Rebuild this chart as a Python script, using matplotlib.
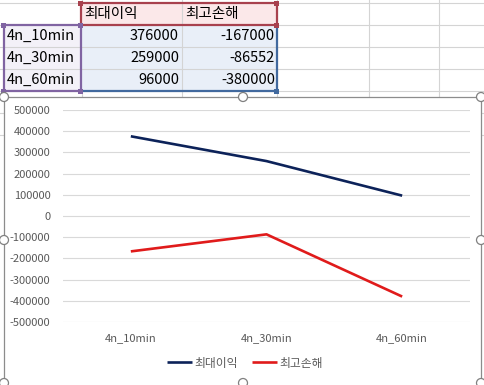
import matplotlib
matplotlib.use("Agg")
import matplotlib.pyplot as plt
from matplotlib.patches import Rectangle, Circle

plt.rcParams['font.family'] = ['Noto Sans CJK KR', 'DejaVu Sans']

# data
categories = ['4n_10min', '4n_30min', '4n_60min']
series_names = ['최대이익', '최고손해']
max_profit = [376000, 259000, 96000]
max_loss = [-167000, -86552, -380000]
y_ticks = list(range(-500000, 500001, 100000))

W, H = 485, 385
fig = plt.figure(figsize=(W / 100, H / 100), dpi=100)

# sheet background, drawn in pixel coords
bg = fig.add_axes([0, 0, 1, 1], zorder=0)
bg.set_xlim(0, W)
bg.set_ylim(H, 0)
bg.axis('off')

grid_c = '#d4d4d4'
row_edges = [3, 25, 47, 69, 91, 113, 135]
col_edges = [82, 182, 277, 369, 439]
for y in row_edges:
    bg.plot([0, W], [y, y], color=grid_c, lw=0.8, zorder=1)
for x in col_edges:
    bg.plot([x, x], [0, H], color=grid_c, lw=0.8, zorder=1)

# highlighted ranges
bg.add_patch(Rectangle((81, 3), 196, 22, facecolor='#fbe8e9', edgecolor='none', zorder=1.5))
bg.add_patch(Rectangle((81, 25), 196, 66, facecolor='#e9eff8', edgecolor='none', zorder=1.5))
bg.add_patch(Rectangle((4, 25), 77, 66, facecolor='#f3f1f8', edgecolor='none', zorder=1.5))
for y in [47, 69]:
    bg.plot([4, 277], [y, y], color=grid_c, lw=0.8, zorder=1.6)
bg.plot([182, 182], [3, 91], color=grid_c, lw=0.8, zorder=1.6)

red_c, pur_c, blu_c = '#a8414e', '#8064a2', '#41699e'
bg.plot([81, 277, 277, 81, 81], [3, 3, 25, 25, 3], color=red_c, lw=1.6, zorder=2)
bg.plot([81, 4, 4, 81], [25, 25, 91, 91], color=pur_c, lw=1.6, zorder=2)
bg.plot([81, 81], [25, 91], color=pur_c, lw=1.6, zorder=2)
bg.plot([81, 277, 277], [91, 91, 25], color=blu_c, lw=1.6, zorder=2)
for (x, y), c in [((81, 3), red_c), ((277, 3), red_c), ((277, 25), red_c),
                  ((4, 25), pur_c), ((81, 25), pur_c), ((4, 91), pur_c),
                  ((81, 91), pur_c), ((277, 91), blu_c)]:
    bg.add_patch(Rectangle((x - 2.5, y - 2.5), 5, 5, facecolor=c, edgecolor='none', zorder=2.5))

# cell text
bg.text(84, 14, series_names[0], ha='left', va='center', fontsize=10.5)
bg.text(185, 14, series_names[1], ha='left', va='center', fontsize=10.5)
for i, cat in enumerate(categories):
    yc = 36 + 22 * i
    bg.text(7, yc, cat, ha='left', va='center', fontsize=10.5)
    bg.text(179, yc, str(max_profit[i]), ha='right', va='center', fontsize=10.5)
    bg.text(275, yc, str(max_loss[i]), ha='right', va='center', fontsize=10.5)

# chart object area (covers the sheet grid)
bg.add_patch(Rectangle((4, 97), 477, 290, facecolor='white', edgecolor='#8c8c8c',
                       lw=0.9, zorder=4))
for x, y in [(4, 97), (243, 97), (481, 97), (4, 240), (481, 240),
             (4, 383), (243, 383), (481, 383)]:
    bg.add_patch(Circle((x, y), 4.5, facecolor='white', edgecolor='#808080', lw=0.9, zorder=5))

# plot area
left, right, top, bottom = 63, 470, 110, 322
ax = fig.add_axes([left / W, 1 - bottom / H, (right - left) / W, (bottom - top) / H], zorder=2)
ax.set_facecolor('none')
xs = range(len(categories))
ax.plot(xs, max_profit, color='#0c2259', lw=1.9, label=series_names[0], solid_capstyle='butt')
ax.plot(xs, max_loss, color='#e01b1b', lw=1.9, label=series_names[1], solid_capstyle='butt')
ax.set_xlim(-0.5, 2.5)
ax.set_ylim(-500000, 500000)
ax.set_yticks(y_ticks)
ax.set_yticklabels([str(v) for v in y_ticks])
ax.set_xticks(list(xs))
ax.set_xticklabels(categories)
ax.grid(axis='y', color='#d9d9d9', lw=0.8)
ax.set_axisbelow(True)
for s in ax.spines.values():
    s.set_visible(False)
ax.tick_params(length=0, colors='#595959', labelsize=8)
ax.tick_params(axis='y', pad=9)
ax.tick_params(axis='x', pad=8)

fig.legend(loc='center', bbox_to_anchor=(245 / W, 1 - 363 / H), ncol=2, frameon=False,
           fontsize=8.5, handlelength=2.1, handletextpad=0.2, columnspacing=1.2,
           labelcolor='#595959')

fig.savefig('out.png', dpi=100)
